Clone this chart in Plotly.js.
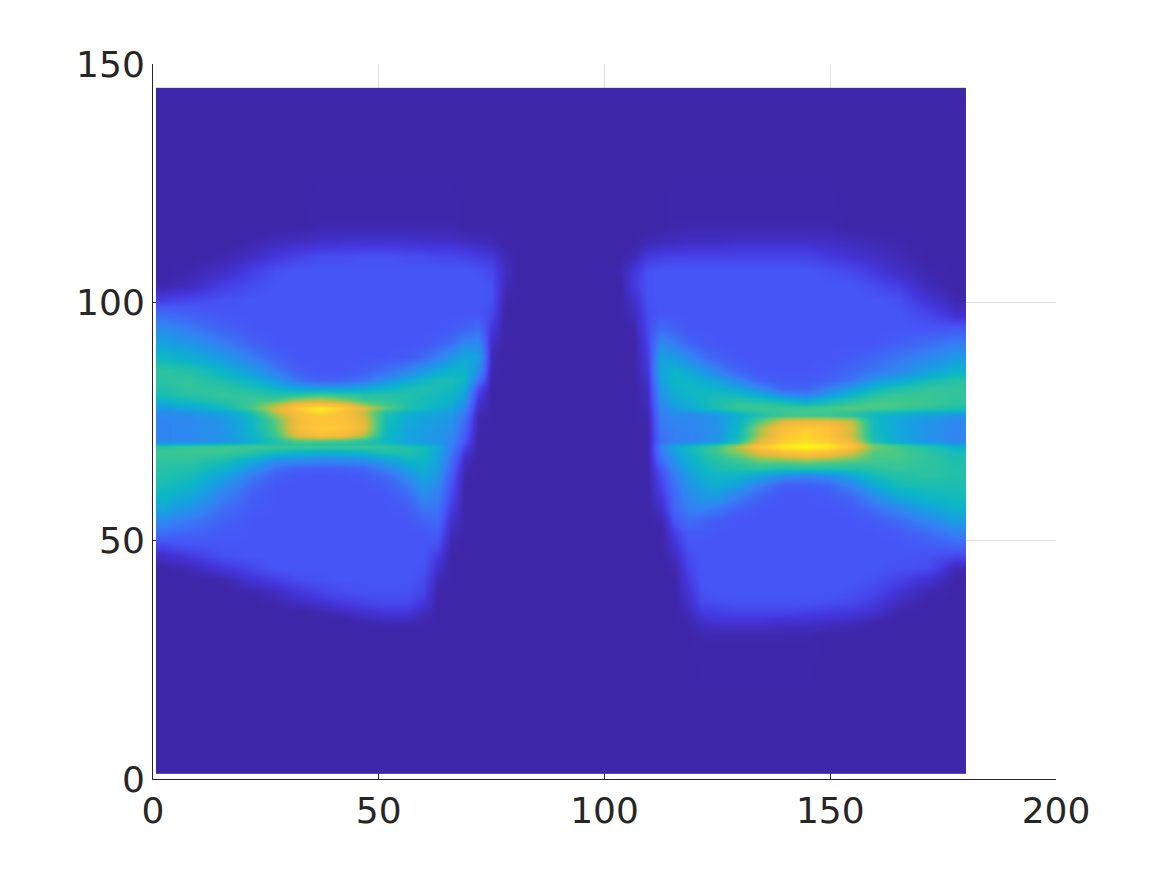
<!DOCTYPE html>
<html>
<head>
<meta charset="utf-8">
<script src="https://cdn.plot.ly/plotly-3.0.1.min.js"></script>
<style>html,body{margin:0;padding:0;background:#fff}</style>
</head>
<body>
<div id="chart" style="width:1167px;height:875px"></div>
<script>
// cell edges (non-uniform so the sharp bands survive)
const xEdges = [0.66,4.5,12,19,24.5,29.5,34.5,39.5,44.5,49,54,58,61.5,64.5,67.5,70.5,73.5,76.5,79.5,82.5,102,105,108,111,114,117,120,123,127,132,137,142,147,152,157,162,168,175,180.07];
const yEdgesTopDown = [145,118,114,111,108,105,102,99,96,93,90,87,84.5,82.8,81.4,80.2,79.2,78.2,77.4,76.8,75.8,74.2,72.8,71.5,70.6,70.1,69.2,68.2,67.2,66,64.5,62.5,60.5,58,55.5,53,50.5,48,45.5,43,40.5,38,36,34,32,28,1.05];
const xTicks = [0,50,100,150,200];
const yTicks = [0,50,100,150];
// intensity estimated from the colours, 0-100, rows from top to bottom
const zRowsTopDown = [
[0,0,0,0,0,0,0,0,0,0,0,0,0,0,0,0,0,0,0,0,0,0,0,0,0,0,0,0,0,0,0,0,0,0,0,0,0,0],
[0,0,0,0,0,0,1,1,1,1,1,1,1,1,0,0,0,0,0,0,0,0,0,0,1,1,1,1,1,1,1,1,1,0,0,0,0,0],
[0,0,0,1,3,4,5,6,6,6,6,5,5,5,4,3,2,0,0,0,0,0,2,3,3,4,4,4,5,5,5,5,4,3,2,1,0,0],
[0,0,1,4,7,10,12,12,13,13,12,12,11,11,10,9,7,2,0,0,0,2,8,9,10,10,10,10,10,10,10,10,8,6,4,2,0,0],
[0,1,4,9,13,14,14,14,14,14,14,14,14,14,14,13,11,3,0,0,1,7,13,14,14,14,14,14,14,14,14,14,13,11,8,4,1,0],
[1,3,9,12,14,14,14,14,14,14,14,14,14,14,14,14,13,2,0,0,0,8,13,14,14,14,14,14,14,14,14,14,14,14,12,9,2,0],
[9,11,13,14,14,14,14,14,14,14,14,14,14,14,14,14,13,1,0,0,0,5,13,14,14,14,14,14,14,14,14,14,14,14,14,13,6,1],
[20,17,14,14,14,14,14,14,14,14,14,14,14,14,14,14,11,0,0,0,0,3,12,14,14,14,14,14,14,14,14,14,14,14,14,14,11,5],
[29,24,17,14,14,14,14,14,14,14,14,14,14,15,17,20,7,0,0,0,0,1,11,20,17,14,14,14,14,14,14,14,14,14,14,14,14,15],
[36,32,24,17,14,14,14,14,14,14,14,14,16,20,28,28,4,0,0,0,0,0,10,28,24,18,15,14,14,14,14,14,14,14,14,16,20,24],
[44,40,33,24,17,14,14,14,14,14,15,19,25,32,38,36,2,0,0,0,0,0,8,36,34,28,21,17,14,14,14,14,14,15,18,22,27,33],
[52,50,42,34,24,16,14,14,16,20,26,32,38,42,43,30,1,0,0,0,0,0,7,38,42,38,33,26,17,14,14,14,15,18,22,27,35,42],
[52,53,48,42,33,22,17,18,22,30,38,44,47,48,44,22,0,0,0,0,0,0,5,36,44,43,40,36,27,17,15,15,17,22,32,38,46,51],
[50,53,52,48,42,36,33,34,37,42,46,48,48,46,40,13,0,0,0,0,0,0,4,34,42,44,44,42,36,27,17,17,24,33,42,48,53,53],
[48,52,54,52,50,50,54,52,50,50,50,48,46,44,36,9,0,0,0,0,0,0,3,32,40,43,45,46,44,38,28,24,32,42,50,54,55,53],
[43,47,52,55,56,66,70,64,55,53,50,47,45,42,33,7,0,0,0,0,0,0,3,30,38,42,45,48,50,47,42,36,44,50,55,56,55,53],
[38,42,48,56,68,82,85,80,65,56,50,46,44,40,30,5,0,0,0,0,0,0,3,28,36,40,44,48,53,53,50,46,50,55,58,57,55,52],
[34,38,45,58,75,90,96,90,78,60,50,46,42,38,27,4,0,0,0,0,0,0,2,27,34,39,43,48,54,55,55,55,57,60,58,56,52,48],
[30,33,38,50,72,88,96,88,72,52,44,41,38,35,25,3,0,0,0,0,0,0,2,26,30,33,36,40,48,53,55,57,57,55,50,47,44,42],
[28,30,34,46,66,84,89,85,74,48,40,37,36,33,23,2,0,0,0,0,0,0,1,25,28,28,30,32,40,50,55,56,55,52,45,40,36,32],
[27,28,32,44,60,82,88,87,78,47,39,36,34,31,20,1,0,0,0,0,0,0,1,24,27,27,28,31,42,60,78,80,80,74,46,38,32,28],
[27,28,32,44,58,84,90,89,78,46,38,35,33,30,18,1,0,0,0,0,0,0,0,23,26,27,28,31,44,70,86,90,88,76,46,38,31,27],
[27,28,31,42,56,78,86,84,70,45,37,34,32,28,16,0,0,0,0,0,0,0,0,22,25,26,27,31,44,70,88,92,88,74,47,38,31,27],
[27,28,31,40,50,60,60,58,52,44,37,34,32,27,14,0,0,0,0,0,0,0,0,21,25,26,28,32,48,78,90,93,90,80,50,38,31,27],
[38,40,44,48,50,52,50,50,50,48,42,38,34,26,12,0,0,0,0,0,0,0,0,24,32,36,40,46,60,85,94,97,94,86,60,50,42,34],
[52,54,56,56,55,55,55,55,55,53,50,46,38,26,10,0,0,0,0,0,0,0,0,26,38,44,50,56,70,90,96,100,96,88,64,57,50,42],
[55,56,56,52,48,45,43,44,46,50,50,46,38,24,8,0,0,0,0,0,0,0,0,24,36,44,50,56,66,80,88,90,88,78,60,58,52,46],
[54,54,52,46,38,35,33,34,36,42,47,45,37,22,5,0,0,0,0,0,0,0,0,22,34,42,48,53,60,70,76,80,76,68,58,58,53,48],
[52,52,47,38,28,26,25,25,27,33,42,43,36,20,3,0,0,0,0,0,0,0,0,19,32,40,46,50,54,60,60,62,60,58,56,56,53,49],
[51,50,43,31,21,17,16,17,19,26,36,41,34,18,2,0,0,0,0,0,0,0,0,15,28,38,44,48,50,52,50,50,50,50,52,54,52,50],
[50,47,36,24,16,14,14,14,15,19,29,38,32,15,1,0,0,0,0,0,0,0,0,12,24,34,40,44,43,36,28,25,28,36,46,50,52,50],
[47,43,31,19,14,14,14,14,14,16,23,33,28,13,0,0,0,0,0,0,0,0,0,10,21,31,37,40,34,24,16,16,18,26,38,46,48,48],
[43,38,25,16,14,14,14,14,14,14,18,28,25,11,0,0,0,0,0,0,0,0,0,7,19,28,33,34,25,17,14,14,15,18,28,38,44,46],
[38,31,20,15,14,14,14,14,14,14,15,22,22,8,0,0,0,0,0,0,0,0,0,4,18,25,26,23,17,14,14,14,14,15,20,27,36,42],
[28,23,17,14,14,14,14,14,14,14,14,17,19,5,0,0,0,0,0,0,0,0,0,1,14,20,18,15,14,14,14,14,14,14,15,19,27,35],
[21,18,15,14,14,14,14,14,14,14,14,14,16,3,0,0,0,0,0,0,0,0,0,0,9,15,15,14,14,14,14,14,14,14,14,15,20,26],
[12,14,14,14,14,14,14,14,14,14,14,14,13,1,0,0,0,0,0,0,0,0,0,0,6,14,14,14,14,14,14,14,14,14,14,14,16,19],
[4,8,13,14,14,14,14,14,14,14,14,14,8,0,0,0,0,0,0,0,0,0,0,0,3,12,14,14,14,14,14,14,14,14,14,14,13,11],
[0,2,7,11,14,14,14,14,14,14,14,13,5,0,0,0,0,0,0,0,0,0,0,0,1,10,14,14,14,14,14,14,14,14,14,13,12,2],
[0,0,1,6,9,12,13,14,14,14,14,12,2,0,0,0,0,0,0,0,0,0,0,0,0,8,14,14,14,14,14,14,14,14,13,10,5,0],
[0,0,0,1,3,7,10,12,13,13,13,10,0,0,0,0,0,0,0,0,0,0,0,0,0,6,13,14,14,14,14,14,14,13,11,6,1,0],
[0,0,0,0,1,3,5,8,10,11,11,7,0,0,0,0,0,0,0,0,0,0,0,0,0,4,11,12,13,13,13,13,12,11,8,3,0,0],
[0,0,0,0,0,0,1,3,5,7,7,3,0,0,0,0,0,0,0,0,0,0,0,0,0,2,8,9,10,10,10,9,8,7,5,1,0,0],
[0,0,0,0,0,0,0,0,1,2,2,1,0,0,0,0,0,0,0,0,0,0,0,0,0,1,4,6,6,6,5,5,4,3,1,0,0,0],
[0,0,0,0,0,0,0,0,0,0,0,0,0,0,0,0,0,0,0,0,0,0,0,0,0,0,1,1,1,1,1,1,0,0,0,0,0,0],
[0,0,0,0,0,0,0,0,0,0,0,0,0,0,0,0,0,0,0,0,0,0,0,0,0,0,0,0,0,0,0,0,0,0,0,0,0,0]
];
const parula = [[0,'#3e26a8'],[0.07,'#4436dc'],[0.14,'#4656f6'],[0.25,'#3580f4'],[0.35,'#189fe2'],[0.43,'#0cb5c8'],[0.5,'#22c0aa'],[0.57,'#42c88c'],[0.65,'#82c862'],[0.72,'#c2bf42'],[0.8,'#f0ba3c'],[0.88,'#fec338'],[1,'#f9fb15']];

const axisBase = {
  showgrid: true, gridcolor: '#dfdfdf', gridwidth: 1, zeroline: false,
  showline: true, linecolor: '#262626', linewidth: 1,
  ticks: 'inside', ticklen: 9, tickwidth: 1, tickcolor: '#262626',
  tickmode: 'array', tickangle: 0, layer: 'below traces',
  tickfont: {family: '"DejaVu Sans", sans-serif', size: 36, color: '#262626'}
};
Plotly.newPlot('chart', [{
  type: 'heatmap',
  x: xEdges,
  y: yEdgesTopDown.slice().reverse(),
  z: zRowsTopDown.slice().reverse(),
  colorscale: parula, zmin: 0, zmax: 100, zsmooth: 'best', showscale: false, hoverinfo: 'skip'
}], {
  width: 1167, height: 875,
  margin: {l: 153, r: 111, t: 64, b: 96},
  paper_bgcolor: '#ffffff', plot_bgcolor: '#ffffff', showlegend: false,
  xaxis: Object.assign({}, axisBase, {range: [0,200], tickvals: xTicks, ticktext: xTicks.map(String)}),
  yaxis: Object.assign({}, axisBase, {range: [0,150], tickvals: yTicks, ticktext: yTicks.map(String)})
}, {displayModeBar: false, staticPlot: true});
</script>
</body>
</html>
